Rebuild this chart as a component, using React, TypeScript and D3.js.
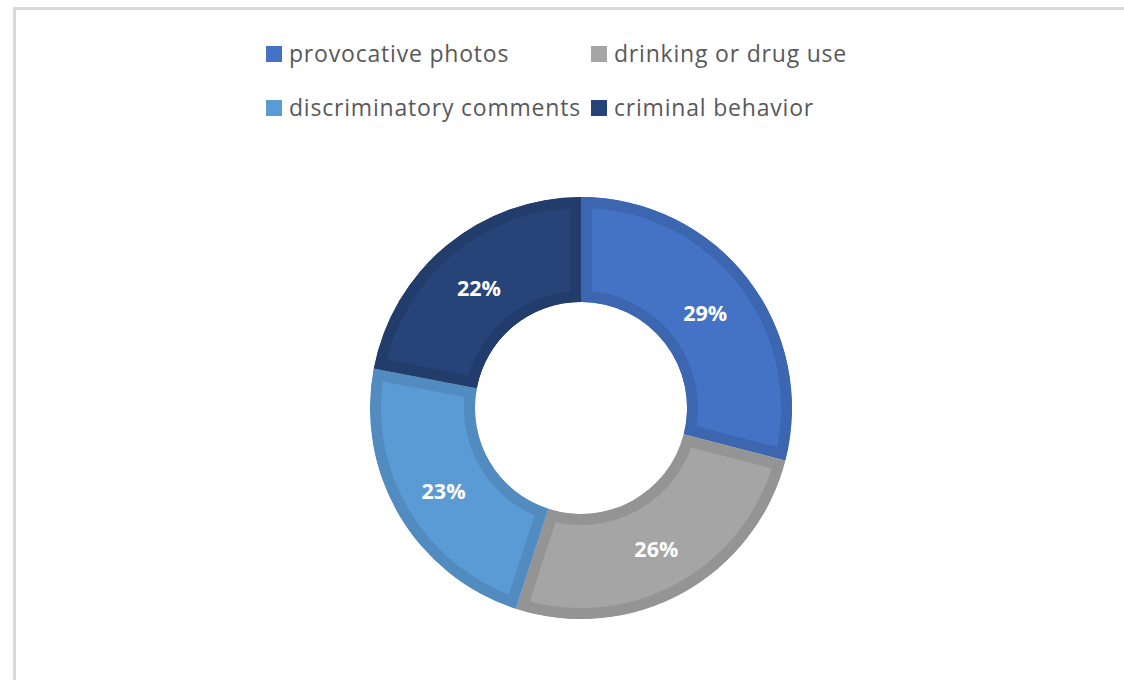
import React from "react";
import * as d3 from "d3";

const categories = ["provocative photos", "drinking or drug use", "discriminatory comments", "criminal behavior"];
const values = [29, 26, 23, 22];
const colors = ["#4472c4", "#a5a5a5", "#5b9bd5", "#264478"];
const legendOrder = [0, 1, 2, 3];

const W = 1124;
const H = 680;
const cx = 581;
const cy = 408;
const R = 211;
const r = 106;
const band = 11;

export default function App() {
  const pie = d3.pie<number>().sort(null).value((d) => d)(values);
  const arc = d3.arc<d3.PieArcDatum<number>>().innerRadius(r).outerRadius(R);
  const labelArc = d3.arc<d3.PieArcDatum<number>>().innerRadius((r + R) / 2).outerRadius((r + R) / 2);
  const total = d3.sum(values);

  const legendX = d3.scaleOrdinal<number, number>().domain([0, 1]).range([266, 591]);
  const legendY = d3.scaleOrdinal<number, number>().domain([0, 1]).range([46, 100]);

  return (
    <svg width={W} height={H} style={{ position: "absolute", left: 0, top: 0, display: "block" }}>
      <rect x={0} y={0} width={W} height={H} fill="#ffffff" />
      <rect x={14.5} y={8.5} width={W + 20} height={H + 20} fill="#ffffff" stroke="#d9d9d9" strokeWidth={3} />
      <defs>
        {pie.map((p, i) => (
          <clipPath id={`clip${i}`} key={i}>
            <path d={arc(p) || ""} transform={`translate(${cx},${cy})`} />
          </clipPath>
        ))}
      </defs>
      {pie.map((p, i) => {
        const c = colors[i];
        const dark = d3.color(c)!.darker(0.3).formatHex();
        return (
          <g key={i} clipPath={`url(#clip${i})`}>
            <path
              d={arc(p) || ""}
              transform={`translate(${cx},${cy})`}
              fill={c}
              stroke={dark}
              strokeWidth={band * 2}
              strokeLinejoin="miter"
            />
          </g>
        );
      })}
      {pie.map((p, i) => {
        const [lx, ly] = labelArc.centroid(p);
        return (
          <text
            key={i}
            x={cx + lx - 1}
            y={cy + ly + 3}
            dy="0.35em"
            textAnchor="middle"
            fill="#ffffff"
            fontFamily="'Open Sans', sans-serif"
            fontWeight={700}
            fontSize={21.5}
          >
            {`${Math.round((values[i] / total) * 100)}%`}
          </text>
        );
      })}
      {legendOrder.map((idx, k) => {
        const col = k % 2;
        const row = Math.floor(k / 2);
        const x = legendX(col);
        const y = legendY(row);
        return (
          <g key={idx}>
            <rect x={x} y={y} width={16} height={16} fill={colors[idx]} />
            <text
              x={x + 23}
              y={y + 16}
              fill="#595959"
              fontFamily="'Open Sans', sans-serif"
              fontSize={23}
              letterSpacing={0.8}
            >
              {categories[idx]}
            </text>
          </g>
        );
      })}
    </svg>
  );
}
